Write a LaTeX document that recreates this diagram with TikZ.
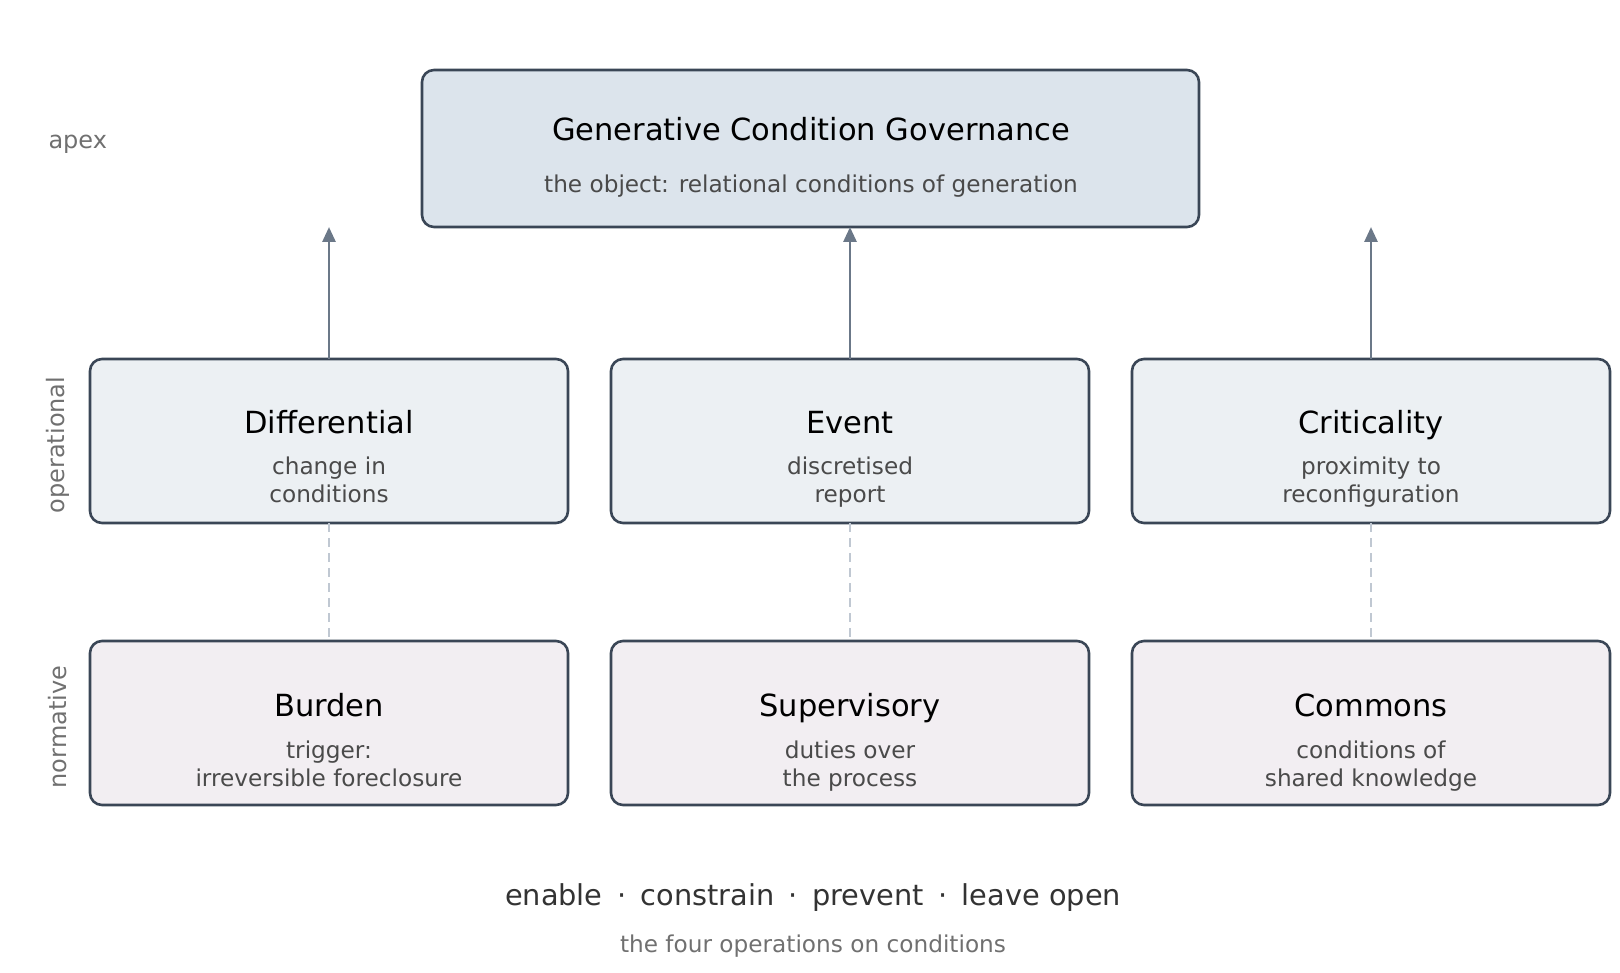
\documentclass[tikz,border=0pt]{standalone}
\usepackage{fontspec}
\setmainfont{DejaVu Sans}
\usetikzlibrary{arrows.meta}
\definecolor{bord}{HTML}{3A4656}
\definecolor{arr}{HTML}{6B7888}
\definecolor{dsh}{HTML}{C0C8D2}
\definecolor{fa}{HTML}{DCE4EC}
\definecolor{fo}{HTML}{ECF0F3}
\definecolor{fn}{HTML}{F2EEF2}
\definecolor{sub}{HTML}{4A4A4A}
\definecolor{lab}{HTML}{707070}
\begin{document}
\begin{tikzpicture}[x=1pt,y=-1pt,
 box/.style={draw=bord,line width=2.6pt,rounded corners=12pt},
 ttl/.style={font=\fontsize{30.5}{36}\selectfont,text=black,anchor=base},
 st/.style={font=\fontsize{23.2}{28}\selectfont,text=sub,anchor=base},
 side/.style={font=\fontsize{24}{28}\selectfont,text=lab},
 up/.style={draw=arr,line width=2.8pt,-{Triangle[length=15pt,width=13pt]}},
 dl/.style={draw=dsh,line width=2.6pt,dash pattern=on 9pt off 6pt}]
\useasboundingbox (0,0) rectangle (1620,973);
\clip (0,0) rectangle (1620,973);
\draw[box,fill=fa] (422,70) rectangle (1199,227);
\node[ttl] (t0) at (811,141) {Generative Condition Governance};
\node[st] (s0) at (811,193) {the object: relational conditions of generation};
\foreach \n/\cx/\a/\b/\c/\d/\e/\f in {1/329/Differential/change in/conditions/Burden/trigger:/irreversible foreclosure,
 2/850/Event/discretised/report/Supervisory/duties over/the process,
 3/1371/Criticality/proximity to/reconfiguration/Commons/conditions of/shared knowledge}{
 \draw[box,fill=fo] (\cx-239,359) rectangle (\cx+239,523);
 \node[ttl] (m\n) at (\cx,433) {\a};
 \node[st] (ms\n) at (\cx,474) {\b};
 \node[st] (mz\n) at (\cx,502) {\c};
 \draw[box,fill=fn] (\cx-239,641) rectangle (\cx+239,805);
 \node[ttl] (b\n) at (\cx,716) {\d};
 \node[st] (bs\n) at (\cx,758) {\e};
 \node[st] (bz\n) at (\cx,786) {\f};
 \coordinate (mt\n) at (\cx,359);
 \coordinate (at\n) at (\cx,227);
 \coordinate (mb\n) at (\cx,523);
 \coordinate (bt\n) at (\cx,641);
 \draw[up] (mt\n) -- (at\n);
 \draw[dl] (mb\n) -- (bt\n);
}
\node[side,anchor=base west] (la) at (45,149) {apex};
\node[side,rotate=90] (lo) at (58,445) {operational};
\node[side,rotate=90] (ln) at (58,727) {normative};
\node[font=\fontsize{28.8}{34}\selectfont,text=black!80,anchor=base] (f1) at (813,905) {enable\enspace·\enspace constrain\enspace·\enspace prevent\enspace·\enspace leave open};
\node[font=\fontsize{23.2}{28}\selectfont,text=lab,anchor=base] (f2) at (813,952) {the four operations on conditions};
\end{tikzpicture}
\end{document}
